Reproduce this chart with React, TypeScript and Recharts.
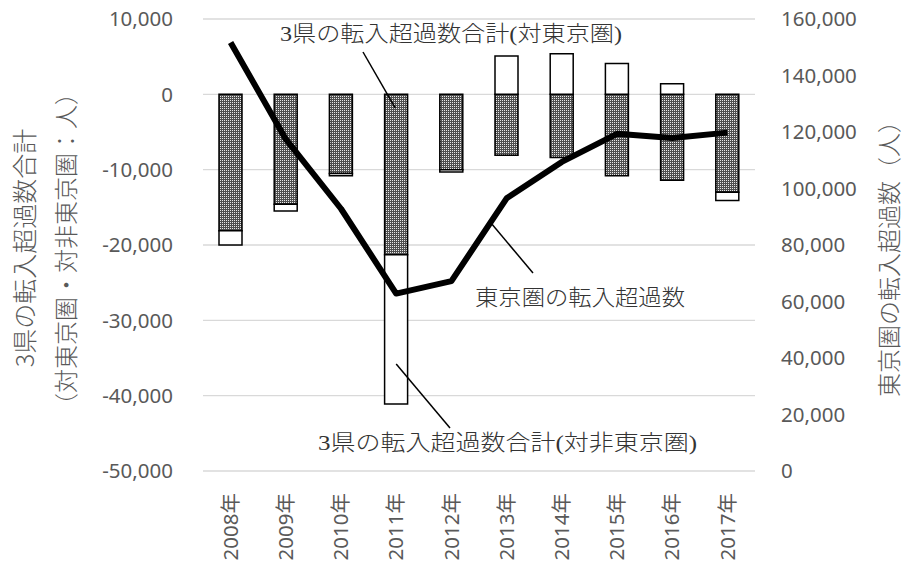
import React from 'react';
import { ComposedChart, Bar, Line, XAxis, YAxis, CartesianGrid } from 'recharts';

const years = ['2008年', '2009年', '2010年', '2011年', '2012年', '2013年', '2014年', '2015年', '2016年', '2017年'];
// 3県の転入超過数合計（対東京圏）
const toTokyoArea = [-18100, -14600, -10500, -21300, -10000, -8100, -8400, -10800, -11400, -13000];
// 3県の転入超過数合計（対非東京圏）
const toOtherAreas = [-1900, -900, -300, -19800, -300, 5100, 5400, 4100, 1400, -1100];
// 東京圏の転入超過数
const tokyoAreaNet = [151696, 117461, 92829, 62809, 67209, 96524, 109408, 119357, 117868, 119779];

const leftTicks = [-50000, -40000, -30000, -20000, -10000, 0, 10000];
const rightTicks = [0, 20000, 40000, 60000, 80000, 100000, 120000, 140000, 160000];

const data = years.map((year, i) => ({
    year,
    toTokyo: toTokyoArea[i],
    toOther: toOtherAreas[i],
    tokyoNet: tokyoAreaNet[i],
}));

const W = 905;
const H = 567;
const PLOT = { left: 203, right: 755, top: 19, bottom: 471 };

const TICK_FONT = "'Noto Sans', 'Noto Sans CJK JP', sans-serif";
const TITLE_FONT = "'Noto Sans CJK JP', sans-serif";
const NOTE_FONT = "'Liberation Serif', 'Noto Sans CJK JP', serif";
const GREY = '#595959';

// helpers to anchor the callouts to the same plot box the axes use
const bandX = (i: number) => PLOT.left + ((i + 0.5) * (PLOT.right - PLOT.left)) / years.length;
const leftY = (v: number) => PLOT.top + ((10000 - v) / 60000) * (PLOT.bottom - PLOT.top);

const fmt = (v: number) => v.toLocaleString('en-US');

const YearTick = ({ x, y, payload }: any) => (
    <text
        x={x}
        y={y}
        dy="0.35em"
        transform={`rotate(-90 ${x} ${y})`}
        textAnchor="end"
        fill={GREY}
        fontSize={20.5}
        fontFamily={TICK_FONT}
    >
        {payload.value}
    </text>
);

const VerticalTitle = ({ x, y, size, children }: any) => (
    <text
        x={x}
        y={y}
        dy="0.35em"
        transform={`rotate(-90 ${x} ${y})`}
        textAnchor="middle"
        fill={GREY}
        fontSize={size}
        fontWeight={300}
        fontFamily={TITLE_FONT}
    >
        {children}
    </text>
);

export default function App() {
    return (
        <div style={{ position: 'absolute', left: 0, top: 0, width: W, height: H, background: '#fff' }}>
            <ComposedChart
                width={W}
                height={H}
                data={data}
                stackOffset="sign"
                margin={{ top: PLOT.top, right: 0, bottom: 0, left: 0 }}
            >
                <defs>
                    <pattern id="dotFill" width="2" height="2" patternUnits="userSpaceOnUse">
                        <rect width="2" height="2" fill="#4f4f4f" />
                        <rect width="1" height="1" fill="#e8e8e8" />
                    </pattern>
                </defs>
                <CartesianGrid yAxisId="left" vertical={false} stroke="#d9d9d9" strokeWidth={1.3} />
                <XAxis
                    dataKey="year"
                    height={H - PLOT.bottom}
                    axisLine={false}
                    tickLine={false}
                    tickMargin={16}
                    interval={0}
                    tick={<YearTick />}
                />
                <YAxis
                    yAxisId="left"
                    orientation="left"
                    width={PLOT.left}
                    domain={[-50000, 10000]}
                    ticks={leftTicks}
                    tickFormatter={fmt}
                    axisLine={false}
                    tickLine={false}
                    tickMargin={24}
                    tick={{ fill: GREY, fontSize: 20.5, fontFamily: TICK_FONT }}
                />
                <YAxis
                    yAxisId="right"
                    orientation="right"
                    width={W - PLOT.right}
                    domain={[0, 160000]}
                    ticks={rightTicks}
                    tickFormatter={fmt}
                    axisLine={false}
                    tickLine={false}
                    tickMargin={20}
                    tick={{ fill: GREY, fontSize: 20.5, fontFamily: TICK_FONT, textAnchor: 'start' }}
                />
                <Bar
                    yAxisId="left"
                    dataKey="toTokyo"
                    stackId="pref"
                    barSize={23}
                    fill="url(#dotFill)"
                    stroke="#000"
                    strokeWidth={1.5}
                    isAnimationActive={false}
                />
                <Bar
                    yAxisId="left"
                    dataKey="toOther"
                    stackId="pref"
                    barSize={23}
                    fill="#fff"
                    stroke="#000"
                    strokeWidth={1.5}
                    isAnimationActive={false}
                />
                <Line
                    yAxisId="right"
                    dataKey="tokyoNet"
                    type="linear"
                    stroke="#000"
                    strokeWidth={6}
                    strokeLinejoin="round"
                    dot={false}
                    activeDot={false}
                    isAnimationActive={false}
                />
            </ComposedChart>

            <svg
                width={W}
                height={H}
                style={{ position: 'absolute', left: 0, top: 0, pointerEvents: 'none' }}
            >
                <VerticalTitle x={25} y={248} size={25}>3県の転入超過数合計</VerticalTitle>
                <VerticalTitle x={67} y={249} size={24}>（対東京圏・対非東京圏：人）</VerticalTitle>
                <VerticalTitle x={890} y={253} size={24}>東京圏の転入超過数（人）</VerticalTitle>

                <g fill="#333" fontFamily={NOTE_FONT} fontSize={22} fontWeight={300}>
                    <text x={280} y={41} textLength={342} lengthAdjust="spacingAndGlyphs">
                        3県の転入超過数合計(対東京圏)
                    </text>
                    <text x={475} y={305} textLength={210} lengthAdjust="spacingAndGlyphs">
                        東京圏の転入超過数
                    </text>
                    <text x={318} y={450} textLength={379} lengthAdjust="spacingAndGlyphs">
                        3県の転入超過数合計(対非東京圏)
                    </text>
                </g>
                <g stroke="#000" strokeWidth={1.5}>
                    <line x1={363} y1={52} x2={bandX(3) - 1} y2={leftY(-1800)} />
                    <line x1={491} y1={223} x2={533} y2={273} />
                    <line x1={bandX(3)} y1={leftY(-35800)} x2={450} y2={428} />
                </g>
            </svg>
        </div>
    );
}
